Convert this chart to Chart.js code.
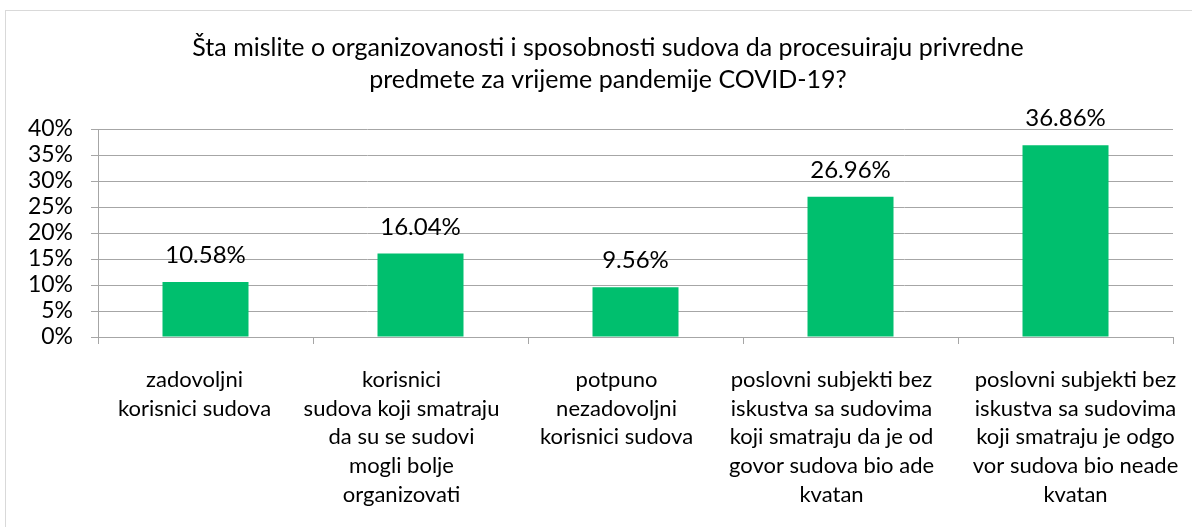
<!DOCTYPE html>
<html>
<head>
<meta charset="utf-8">
<script src="https://cdn.jsdelivr.net/npm/chart.js@4"></script>
<style>
  html, body { margin: 0; padding: 0; background: #fff; overflow: hidden; }
  #frame { position: absolute; left: 5px; top: 10px; width: 1300px; height: 700px; border: 1px solid #d9d9d9; }
  #wrap { position: absolute; left: 0; top: 0; width: 1192px; height: 527px; }
</style>
</head>
<body>
<div id="frame"></div>
<div id="wrap"><canvas id="chart-canvas" width="1192" height="527"></canvas></div>
<script>
// category labels, already broken into lines as in the original
const categories = [
    ["zadovoljni", "korisnici sudova"],
    ["korisnici", "sudova koji smatraju", "da su se sudovi", "mogli bolje", "organizovati"],
    ["potpuno", "nezadovoljni", "korisnici sudova"],
    ["poslovni subjekti bez", "iskustva sa sudovima", "koji smatraju da je od", "govor sudova bio ade", "kvatan"],
    ["poslovni subjekti bez", "iskustva sa sudovima", "koji smatraju je odgo", "vor sudova bio neade", "kvatan"]
];
const percentages = [10.58, 16.04, 9.56, 26.96, 36.86];
const yTicks = [0, 5, 10, 15, 20, 25, 30, 35, 40];
const titleLines = [
    "Šta mislite o organizovanosti i sposobnosti sudova da procesuiraju privredne",
    "predmete za vrijeme pandemije COVID-19?"
];

const FONT = "Lato, 'Open Sans', sans-serif";
// the wrapped category text in the original is not quite centred under the bars
const LABEL_SHIFT = [-11, -19, -19, -19, 10];

// draws the value above each bar
const valueLabels = {
    id: "valueLabels",
    afterDatasetsDraw(chart) {
        const ctx = chart.ctx;
        const meta = chart.getDatasetMeta(0);
        ctx.save();
        ctx.font = "24px " + FONT;
        ctx.fillStyle = "#000";
        ctx.textAlign = "center";
        ctx.textBaseline = "alphabetic";
        meta.data.forEach((bar, i) => {
            ctx.fillText(percentages[i].toFixed(2) + "%", bar.x, bar.y - 19);
        });
        ctx.restore();
    }
};

// category text under the x axis
const categoryText = {
    id: "categoryText",
    afterDraw(chart) {
        const ctx = chart.ctx;
        const xs = chart.scales.x;
        ctx.save();
        ctx.font = "22px " + FONT;
        ctx.fillStyle = "#000";
        ctx.textAlign = "center";
        ctx.textBaseline = "middle";
        categories.forEach((lines, i) => {
            const x = xs.getPixelForTick(i) + LABEL_SHIFT[i];
            lines.forEach((line, j) => {
                ctx.fillText(line, x, xs.top + 43 + j * 28.7);
            });
        });
        ctx.restore();
    }
};

// the title in the original sits a bit right of the canvas centre
const titleShift = {
    id: "titleShift",
    afterLayout(chart) {
        if (chart.titleBlock) chart.titleBlock.left += 21;
    }
};

new Chart(document.getElementById("chart-canvas"), {
    type: "bar",
    data: {
        labels: categories,
        datasets: [{
            data: percentages,
            backgroundColor: "#00BF6E",
            borderWidth: 0,
            categoryPercentage: 1.0,
            barPercentage: 0.4
        }]
    },
    plugins: [valueLabels, categoryText, titleShift],
    options: {
        responsive: false,
        animation: false,
        layout: { padding: { left: 20, right: 17, top: 0, bottom: 0 } },
        plugins: {
            legend: { display: false },
            tooltip: { enabled: false },
            title: {
                display: true,
                text: titleLines,
                color: "#000",
                font: { family: FONT, size: 25, weight: "normal", lineHeight: 1.28 },
                padding: { top: 32, bottom: 33 }
            }
        },
        scales: {
            x: {
                afterFit(scale) { scale.height = 190; },
                grid: {
                    offset: true,
                    drawOnChartArea: false,
                    drawTicks: true,
                    tickLength: 7,
                    color: "#A6A6A6"
                },
                border: { color: "#A6A6A6", width: 1 },
                ticks: {
                    autoSkip: false,
                    maxRotation: 0,
                    minRotation: 0,
                    padding: 22,
                    color: "rgba(0,0,0,0)",
                    font: { family: FONT, size: 22, lineHeight: 1.32 }
                }
            },
            y: {
                min: 0,
                max: 40,
                afterFit(scale) { scale.width = 78; },
                afterBuildTicks(scale) { scale.ticks = yTicks.map(v => ({ value: v })); },
                grid: {
                    color: "#A6A6A6",
                    tickLength: 7
                },
                border: { color: "#A6A6A6", width: 1 },
                ticks: {
                    autoSkip: false,
                    padding: 18,
                    color: "#000",
                    font: { family: FONT, size: 23 },
                    callback: v => v + "%"
                }
            }
        }
    }
});
</script>
</body>
</html>
